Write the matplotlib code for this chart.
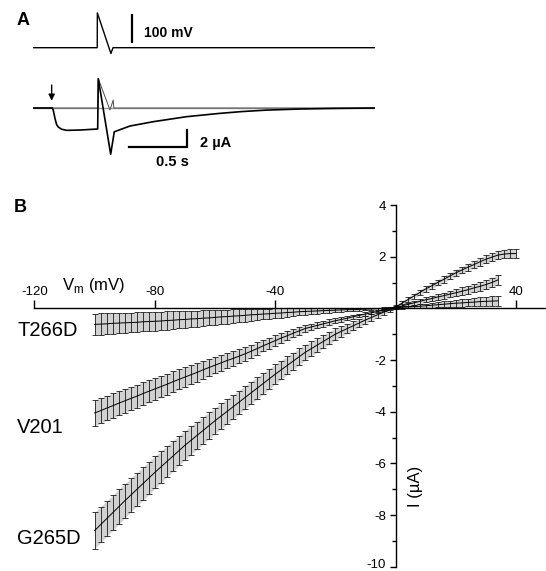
import numpy as np
import matplotlib
matplotlib.use('Agg')
import matplotlib.pyplot as plt
import matplotlib.transforms as mtransforms

plt.rcParams['font.family'] = ['Liberation Sans', 'DejaVu Sans']
plt.rcParams['axes.unicode_minus'] = False

# ---- panel A: example traces (time in s) ----
v_time = [0.0, 0.554, 0.555, 0.672, 0.690, 2.95]
v_trace = [-80, -80, 40, -100, -80, -80]          # mV

i_time = [0.0, 0.166, 0.175, 0.190, 0.204, 0.218, 0.247, 0.291, 0.405, 0.558,
          0.563, 0.670, 0.701, 0.836, 1.037, 1.325, 1.612, 1.80, 2.01, 2.30, 2.59, 2.95]
i_trace = [0.0, 0.0, -0.27, -1.25, -1.96, -2.24, -2.50, -2.63, -2.59, -2.47,
           3.46, -5.44, -2.80, -2.12, -1.61, -1.02, -0.63, -0.42, -0.25, -0.12, -0.05, 0.0]  # uA

ctrl_time = [0.0, 0.558, 0.563, 0.664, 0.692, 0.697, 2.95]
ctrl_trace = [0.0, 0.0, 3.46, -0.24, 0.94, 0.0, 0.0]

# ---- panel B: I-V relations (mean +/- SEM) ----
vm_short = np.arange(-100, 35, 2)
vm_long = np.arange(-100, 41, 2)

g265d_mean = [-8.60, -8.37, -8.14, -7.91, -7.68, -7.45, -7.23, -7.01, -6.79, -6.57,
              -6.35, -6.14, -5.93, -5.72, -5.51, -5.30, -5.11, -4.92, -4.73, -4.54,
              -4.35, -4.17, -3.99, -3.81, -3.63, -3.45, -3.27, -3.09, -2.91, -2.73,
              -2.55, -2.38, -2.21, -2.04, -1.87, -1.70, -1.56, -1.42, -1.28, -1.14,
              -1.00, -0.89, -0.78, -0.67, -0.56, -0.45, -0.35, -0.25, -0.15, -0.05,
              0.05, 0.19, 0.33, 0.47, 0.61, 0.75, 0.87, 1.00, 1.12, 1.25,
              1.37, 1.48, 1.59, 1.69, 1.80, 1.90, 1.98, 2.06, 2.10, 2.12,
              2.12]
g265d_err = [0.70, 0.69, 0.68, 0.68, 0.67, 0.66, 0.65, 0.64, 0.64, 0.63,
             0.62, 0.61, 0.60, 0.59, 0.57, 0.56, 0.55, 0.54, 0.53, 0.51,
             0.50, 0.49, 0.48, 0.47, 0.45, 0.44, 0.43, 0.42, 0.41, 0.39,
             0.38, 0.36, 0.35, 0.33, 0.32, 0.30, 0.28, 0.27, 0.25, 0.24,
             0.22, 0.20, 0.19, 0.17, 0.16, 0.14, 0.13, 0.11, 0.10, 0.09,
             0.08, 0.08, 0.09, 0.09, 0.10, 0.10, 0.11, 0.11, 0.12, 0.12,
             0.13, 0.13, 0.14, 0.14, 0.15, 0.15, 0.15, 0.16, 0.16, 0.16,
             0.16]

v201_mean = [-4.05, -3.96, -3.86, -3.77, -3.67, -3.58, -3.49, -3.40, -3.30, -3.21,
             -3.12, -3.03, -2.94, -2.84, -2.75, -2.66, -2.57, -2.48, -2.38, -2.29,
             -2.20, -2.11, -2.02, -1.94, -1.85, -1.76, -1.66, -1.56, -1.45, -1.35,
             -1.25, -1.15, -1.06, -0.96, -0.87, -0.78, -0.72, -0.66, -0.60, -0.54,
             -0.48, -0.43, -0.38, -0.32, -0.27, -0.22, -0.17, -0.12, -0.07, -0.02,
             0.03, 0.09, 0.15, 0.21, 0.27, 0.33, 0.38, 0.44, 0.49, 0.55,
             0.60, 0.66, 0.72, 0.79, 0.85, 0.92, 1.00, 1.10]
v201_err = [0.50, 0.49, 0.48, 0.48, 0.47, 0.46, 0.45, 0.44, 0.44, 0.43,
            0.42, 0.41, 0.40, 0.40, 0.39, 0.38, 0.37, 0.36, 0.34, 0.33,
            0.32, 0.31, 0.30, 0.28, 0.27, 0.26, 0.25, 0.24, 0.22, 0.21,
            0.20, 0.19, 0.18, 0.16, 0.15, 0.14, 0.13, 0.12, 0.12, 0.11,
            0.10, 0.09, 0.08, 0.08, 0.07, 0.06, 0.06, 0.06, 0.05, 0.05,
            0.05, 0.06, 0.07, 0.08, 0.09, 0.10, 0.11, 0.12, 0.12, 0.13,
            0.14, 0.15, 0.16, 0.16, 0.17, 0.18, 0.19, 0.20]

t266d_mean = [-0.62, -0.61, -0.60, -0.58, -0.57, -0.56, -0.55, -0.54, -0.52, -0.51,
              -0.50, -0.49, -0.47, -0.46, -0.44, -0.43, -0.41, -0.40, -0.38, -0.37,
              -0.35, -0.33, -0.32, -0.30, -0.29, -0.27, -0.25, -0.24, -0.22, -0.21,
              -0.19, -0.18, -0.16, -0.15, -0.13, -0.12, -0.11, -0.10, -0.09, -0.08,
              -0.07, -0.06, -0.05, -0.05, -0.04, -0.03, -0.02, -0.01, 0.00, 0.01,
              0.02, 0.04, 0.05, 0.07, 0.08, 0.10, 0.12, 0.14, 0.16, 0.18,
              0.20, 0.21, 0.23, 0.24, 0.26, 0.27, 0.28, 0.29]
t266d_err = [0.42, 0.42, 0.41, 0.40, 0.40, 0.39, 0.38, 0.38, 0.37, 0.36,
             0.36, 0.35, 0.35, 0.34, 0.33, 0.33, 0.32, 0.31, 0.30, 0.29,
             0.29, 0.28, 0.27, 0.26, 0.25, 0.25, 0.24, 0.22, 0.21, 0.20,
             0.19, 0.18, 0.17, 0.15, 0.14, 0.13, 0.12, 0.11, 0.10, 0.09,
             0.08, 0.07, 0.07, 0.06, 0.05, 0.05, 0.04, 0.04, 0.04, 0.04,
             0.04, 0.05, 0.05, 0.06, 0.07, 0.08, 0.09, 0.10, 0.11, 0.12,
             0.13, 0.14, 0.14, 0.15, 0.16, 0.17, 0.18, 0.19]

W, H = 546, 571
fig = plt.figure(figsize=(W / 100, H / 100), dpi=100)

def px_axes(x0, y0, x1, y1):
    # axes from pixel box (top-left origin)
    return fig.add_axes([x0 / W, 1 - y1 / H, (x1 - x0) / W, (y1 - y0) / H])

# voltage trace
axV = px_axes(33, 5, 375, 60)
axV.set_xlim(0, 2.95)
axV.set_ylim(-122.4, 67.2)
axV.axis('off')
axV.plot(v_time, v_trace, color='black', lw=1.0)
axV.plot([0.853, 0.853], [-64, 36], color='black', lw=1.6, solid_capstyle='butt')
axV.text(0.957, -28, '100 mV', fontsize=10, fontweight='bold', va='center', ha='left')

# current trace
axI = px_axes(33, 70, 375, 175)
axI.set_xlim(0, 2.95)
axI.set_ylim(-7.88, 4.47)
axI.axis('off')
axI.plot([0, 2.95], [0, 0], color='0.6', lw=1.0)
axI.plot(ctrl_time, ctrl_trace, color='0.3', lw=0.7)
axI.plot(i_time, i_trace, color='black', lw=1.2)
axI.annotate('', xy=(0.161, 0.86), xytext=(0.161, 2.7),
             arrowprops=dict(arrowstyle='-|>', color='black', lw=1.0,
                             mutation_scale=9, shrinkA=0, shrinkB=0))
axI.plot([0.830, 1.328, 1.328], [-4.59, -4.59, -2.59], color='black', lw=1.6,
         solid_joinstyle='miter')
axI.text(1.44, -4.16, '2 µA', fontsize=10.5, fontweight='bold', va='center', ha='left')
axI.text(1.207, -6.39, '0.5 s', fontsize=10.5, fontweight='bold', va='center', ha='center')

fig.text(17 / W, 1 - 20.5 / H, 'A', fontsize=13, fontweight='bold', va='center', ha='left')
fig.text(14 / W, 1 - 208 / H, 'B', fontsize=13, fontweight='bold', va='center', ha='left')

# ---- panel B ----
ax = px_axes(34.5, 205, 546, 566.7)
ax.set_xlim(-120, 50)
ax.set_ylim(-10, 4)
ax.patch.set_alpha(0)

for v, m, e in [(vm_short, t266d_mean, t266d_err),
                (vm_short, v201_mean, v201_err),
                (vm_long, g265d_mean, g265d_err)]:
    m = np.array(m)
    e = np.array(e)
    ax.fill_between(v, m - e, m + e, color='0.82', lw=0, zorder=1)
    ax.errorbar(v, m, yerr=e, color='black', lw=0.7, ecolor='0.1',
                elinewidth=0.6, capsize=2.3, capthick=0.6, clip_on=False, zorder=2)

ax.spines['bottom'].set_visible(False)
ax.spines['right'].set_visible(False)
ax.spines['top'].set_position(('data', 0))
ax.spines['left'].set_position(('data', 0))
for s in ('top', 'left'):
    ax.spines[s].set_linewidth(1.0)
    ax.spines[s].set_zorder(3)

ax.xaxis.tick_top()
ax.set_xticks([-120, -80, -40, 40])
ax.set_xticklabels(['-120', '-80', '-40', '40'])
ax.tick_params(axis='x', direction='out', length=6, width=1.0, pad=1.5, labelsize=9.5)

ax.set_yticks([-10, -8, -6, -4, -2, 2, 4])
ax.set_yticks([-9, -7, -5, -3, -1, 1, 3], minor=True)
ax.tick_params(axis='y', which='major', direction='out', length=4.5, width=1.0, pad=2.5, labelsize=9.5)
ax.tick_params(axis='y', which='minor', direction='out', length=3, width=1.0)

# nudge the bottom label so it stays inside the figure
fig.canvas.draw()
lift = mtransforms.ScaledTranslation(0, 3 / 100, fig.dpi_scale_trans)
for lab in ax.get_yticklabels():
    if lab.get_text() == '-10':
        lab.set_transform(lab.get_transform() + lift)

ax.text(-110.9, 0.72, r'V$_\mathregular{m}$ (mV)', fontsize=12, ha='left', va='baseline')
ax.text(6.7, -6.91, 'I (µA)', fontsize=12, rotation=90, ha='center', va='center')
ax.text(-125.8, -0.86, 'T266D', fontsize=14.5, ha='left', va='center')
ax.text(-125.8, -4.62, 'V201', fontsize=14.5, ha='left', va='center')
ax.text(-125.8, -8.89, 'G265D', fontsize=14.5, ha='left', va='center')

fig.savefig('out.png', dpi=100)
